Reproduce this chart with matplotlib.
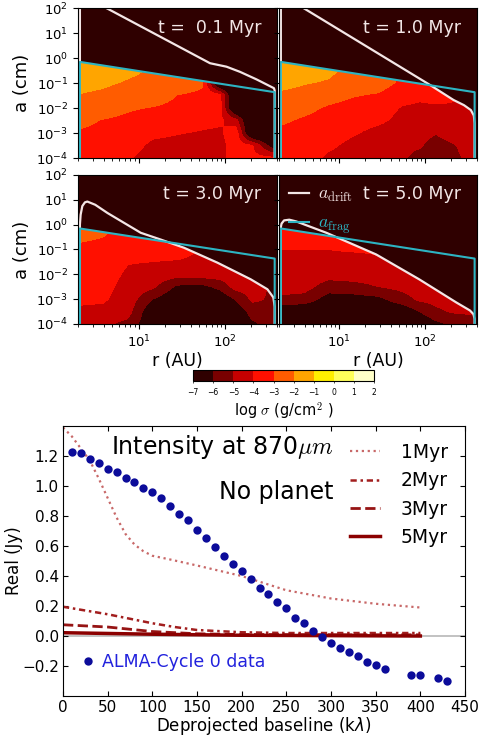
import numpy as np
import matplotlib.pyplot as plt
from matplotlib.patches import Polygon
from matplotlib.ticker import NullLocator

# ---------------- top: dust surface density maps ----------------
# coarse grid: radius nodes (AU) and grain size nodes (cm)
r_nodes = [2.1, 3.9, 7.5, 14.6, 28, 55, 86, 133, 207, 375]
a_nodes = [1e-4, 3.2e-4, 1e-3, 3.2e-3, 1e-2, 3.2e-2, 0.1, 0.32, 1.0]

# log sigma, one inner list per radius node (values from small to large a)
sigma_01 = [
    [-3.5, -3.3, -3.1, -2.8, -2.5, -2.05, -1.7, -1.5, -1.5],
    [-3.6, -3.4, -3.2, -3.05, -2.6, -2.2, -1.85, -1.6, -1.6],
    [-3.9, -3.6, -3.35, -3.2, -2.9, -2.5, -2.1, -1.8, -1.8],
    [-4.4, -4.2, -3.8, -3.4, -3.05, -2.6, -2.3, -2.1, -2.1],
    [-4.5, -4.3, -3.95, -3.5, -3.2, -3.02, -2.6, -2.4, -2.4],
    [-4.5, -4.4, -4.1, -3.7, -3.4, -3.15, -2.9, -2.7, -2.7],
    [-4.3, -4.4, -4.2, -3.8, -3.5, -3.6, -8, -8, -8],
    [-3.6, -3.5, -3.4, -4.6, -8, -8, -8, -8, -8],
    [-3.7, -3.95, -8, -8, -8, -8, -8, -8, -8],
    [-3.8, -7, -8, -8, -8, -8, -8, -8, -8],
]
sigma_10 = [
    [-3.4, -3.3, -3.15, -2.9, -2.6, -2.2, -1.7, -1.4, -1.4],
    [-3.5, -3.4, -3.25, -3.1, -2.8, -2.35, -1.95, -1.6, -1.6],
    [-4.2, -3.8, -3.5, -3.3, -3.1, -2.7, -2.1, -1.8, -1.8],
    [-4.4, -4.3, -3.9, -3.6, -3.3, -2.95, -2.6, -2.3, -2.3],
    [-4.6, -4.5, -4.3, -3.8, -3.5, -3.1, -2.6, -2.4, -2.4],
    [-4.9, -4.8, -4.5, -4.3, -4.1, -3.6, -3.2, -3.0, -3.0],
    [-5.3, -4.9, -4.7, -4.5, -4.2, -3.8, -3.3, -3.1, -3.1],
    [-5.6, -5.4, -4.95, -4.6, -4.2, -3.6, -3.4, -3.4, -3.4],
    [-5.3, -5.1, -4.6, -4.3, -4.1, -3.9, -3.9, -3.9, -3.9],
    [-4.6, -4.5, -4.4, -4.3, -4.2, -4.2, -4.2, -4.2, -4.2],
]
sigma_30 = [
    [-4.5, -4.15, -3.85, -3.7, -3.55, -3.4, -3.2, -2.85, -2.5],
    [-4.8, -4.2, -3.9, -3.75, -3.6, -3.45, -3.25, -3.0, -2.8],
    [-5.3, -4.6, -4.4, -4.3, -4.15, -3.95, -3.6, -3.3, -3.2],
    [-7, -7, -6.0, -4.8, -4.4, -4.0, -3.6, -3.3, -3.2],
    [-7, -7, -7, -6.2, -4.6, -4.1, -3.5, -3.3, -3.3],
    [-7, -7, -7, -6.3, -4.5, -4.3, -4.1, -4.1, -4.1],
    [-7, -7, -7, -5.7, -4.5, -4.4, -4.4, -4.4, -4.4],
    [-7, -6.8, -5.9, -4.6, -4.5, -4.5, -4.5, -4.5, -4.5],
    [-6.2, -5.6, -4.8, -4.6, -4.6, -4.6, -4.6, -4.6, -4.6],
    [-5.5, -5.3, -5.2, -5.2, -5.2, -5.2, -5.2, -5.2, -5.2],
]
sigma_50 = [
    [-6.8, -7, -5.2, -4.6, -4.4, -4.25, -4.0, -3.6, -3.3],
    [-7, -7, -5.4, -4.6, -4.4, -4.25, -4.0, -3.6, -3.3],
    [-7, -7, -6.5, -5.5, -4.6, -4.3, -4.0, -3.6, -3.3],
    [-7, -7, -6.5, -5.3, -4.6, -4.4, -3.9, -3.6, -3.5],
    [-7, -7, -6.3, -5.0, -4.6, -4.1, -3.9, -3.9, -3.9],
    [-7, -6.8, -5.4, -4.7, -4.5, -4.5, -4.5, -4.5, -4.5],
    [-7, -6.0, -4.8, -4.6, -4.6, -4.6, -4.6, -4.6, -4.6],
    [-6.3, -5.2, -4.7, -4.7, -4.7, -4.7, -4.7, -4.7, -4.7],
    [-5.8, -4.9, -4.7, -4.7, -4.7, -4.7, -4.7, -4.7, -4.7],
    [-5.5, -4.8, -4.8, -4.8, -4.8, -4.8, -4.8, -4.8, -4.8],
]

# fragmentation barrier (same for all snapshots)
r_frag = [2.1, 375]
a_frag = [0.7, 0.043]

# drift barrier per snapshot
r_drift_01 = [2.1, 4.7, 67, 104, 149, 231, 368, 375]
a_drift_01 = [355, 83, 0.62, 0.45, 0.28, 0.14, 0.062, 0.05]
r_drift_10 = [2.1, 4.2, 114, 213, 282, 339, 367, 375]
a_drift_10 = [355, 83, 0.083, 0.021, 0.013, 0.0083, 0.005, 0.0025]
r_drift_30 = [2.1, 2.14, 2.24, 2.4, 2.56, 3.16, 4.37, 10.6, 18.1, 33.6, 81.5, 198, 309, 362, 375]
a_drift_30 = [1.0, 2.5, 5.6, 7.9, 8.5, 6.3, 2.95, 0.47, 0.25, 0.117, 0.0295, 0.0063, 0.0025, 0.00117, 0.0005]
r_drift_50 = [2.1, 2.14, 2.29, 2.63, 3.16, 7.1, 26.9, 85, 229, 331, 363, 375]
a_drift_50 = [0.8, 1.1, 1.48, 1.58, 1.35, 0.47, 0.063, 0.0063, 0.00074, 0.00035, 0.00025, 0.00016]

times = ["t =  0.1 Myr", "t = 1.0 Myr", "t = 3.0 Myr", "t = 5.0 Myr"]
sigmas = [sigma_01, sigma_10, sigma_30, sigma_50]
drifts = [(r_drift_01, a_drift_01), (r_drift_10, a_drift_10),
          (r_drift_30, a_drift_30), (r_drift_50, a_drift_50)]

# ---------------- bottom: visibilities ----------------
alma_b = [10, 20, 30, 40, 50, 60, 70, 80, 90, 100, 110, 120, 130, 140, 150, 160, 170, 180,
          190, 200, 210, 220, 230, 240, 250, 260, 270, 280, 290, 300, 310, 320, 330, 340,
          350, 360, 390, 400, 420, 430]
alma_re = [1.228, 1.222, 1.182, 1.156, 1.116, 1.094, 1.053, 1.028, 0.989, 0.962, 0.918,
           0.864, 0.815, 0.771, 0.705, 0.653, 0.591, 0.536, 0.48, 0.433, 0.382, 0.321,
           0.279, 0.224, 0.184, 0.117, 0.084, 0.031, -0.009, -0.048, -0.079, -0.108,
           -0.134, -0.174, -0.196, -0.218, -0.262, -0.262, -0.279, -0.297]

b_1 = [0, 10, 20, 30, 40, 50, 60, 70, 80, 90, 100, 120, 150, 200, 250, 300, 350, 400]
re_1 = [1.39, 1.33, 1.25, 1.17, 1.05, 0.92, 0.79, 0.68, 0.61, 0.565, 0.535, 0.51, 0.47,
        0.40, 0.305, 0.25, 0.215, 0.19]
b_2 = [0, 25, 50, 75, 100, 125, 150, 200, 250, 300, 400]
re_2 = [0.195, 0.17, 0.145, 0.115, 0.085, 0.06, 0.04, 0.025, 0.02, 0.02, 0.02]
b_3 = [0, 50, 100, 150, 200, 400]
re_3 = [0.075, 0.06, 0.03, 0.015, 0.01, 0.008]
b_5 = [0, 100, 200, 400]
re_5 = [0.022, 0.012, 0.005, 0.0]

fig = plt.figure(figsize=(4.79, 7.37), dpi=100)

positions = [[0.163, 0.7856, 0.4155, 0.2035], [0.5825, 0.7856, 0.4134, 0.2035],
             [0.163, 0.5604, 0.4155, 0.2022], [0.5825, 0.5604, 0.4134, 0.2022]]
levels = np.arange(-7, 3)
cmap = plt.get_cmap("hot")
bg = cmap(0.5 / 9)
drift_col = "#f4e6e6"
frag_col = "#2db4c2"

# rendering grid in log space (bilinear between the read nodes)
lr = np.log10(r_nodes)
la = np.log10(a_nodes)
lr_f = np.linspace(lr[0], lr[-1], 150)
la_f = np.linspace(la[0], la[-1], 150)

for i in range(4):
    ax = fig.add_axes(positions[i])
    ax.set_xscale("log")
    ax.set_yscale("log")
    ax.set_facecolor(bg)

    z = np.array(sigmas[i]).T
    z_r = np.array([np.interp(lr_f, lr, row) for row in z])
    z_f = np.array([np.interp(la_f, la, col) for col in z_r.T]).T
    cs = ax.contourf(10 ** lr_f, 10 ** la_f, z_f, levels=levels, cmap=cmap)

    # dust only lives below min(a_frag, a_drift)
    rd, ad = drifts[i]
    rf = np.logspace(np.log10(r_frag[0]), np.log10(r_frag[-1]), 400)
    lf = np.interp(np.log10(rf), np.log10(r_frag), np.log10(a_frag))
    ld = np.interp(np.log10(rf), np.log10(rd), np.log10(ad))
    cap = 10 ** np.minimum(lf, ld)
    verts = np.column_stack([np.r_[rf, rf[-1], rf[0]], np.r_[cap, 1e-4, 1e-4]])
    clip = Polygon(verts, closed=True, transform=ax.transData, fc="none", ec="none")
    cs.set_clip_path(clip)

    ax.plot(np.r_[rd[0], rd, rd[-1]], np.r_[1e-4, ad, 1e-4], color=drift_col, lw=1.6,
            label=r"$a_{\rm drift}$")
    ax.plot(np.r_[r_frag[0], r_frag, r_frag[-1]], np.r_[1e-4, a_frag, 1e-4], color=frag_col,
            lw=1.5, label=r"$a_{\rm frag}$")

    ax.set_xlim(2, 400)
    ax.set_ylim(1e-4, 1e2)
    ax.set_yticks([1e-4, 1e-3, 1e-2, 1e-1, 1e0, 1e1, 1e2])
    ax.yaxis.set_minor_locator(NullLocator())
    ax.tick_params(which="both", direction="out", top=False, right=False, labelsize=9.5)
    ax.text(0.92, 0.87, times[i], transform=ax.transAxes, ha="right", va="center",
            color="#f2e6e6", fontsize=12.5)
    if i % 2 == 0:
        ax.set_ylabel("a (cm)", fontsize=13)
    else:
        ax.tick_params(labelleft=False)
    if i < 2:
        ax.tick_params(labelbottom=False)
    else:
        ax.set_xlabel("r (AU)", fontsize=12.5, labelpad=1)
    if i == 3:
        leg = ax.legend(loc="upper left", frameon=False, fontsize=13, handlelength=1.1,
                        handletextpad=0.5, labelspacing=0.55, labelcolor="linecolor",
                        borderaxespad=0.15)
        for t in leg.get_texts():
            t.set_math_fontfamily("cm")

cax = fig.add_axes([0.403, 0.483, 0.378, 0.015])
cb = fig.colorbar(cs, cax=cax, orientation="horizontal", ticks=levels)
cb.ax.tick_params(labelsize=5.5, length=1.5, width=0.5)
cb.outline.set_linewidth(0.8)
cb.set_label(r"log $\sigma$ (g/cm$^2$ )", fontsize=10.5, labelpad=2)
cb.ax.xaxis.label.set_math_fontfamily("cm")

# ---------------- visibility panel ----------------
ax5 = fig.add_axes([0.1315, 0.0556, 0.8393, 0.3664])
ax5.axhline(0, color="#bdbdbd", lw=1.3, zorder=1)
l1, = ax5.plot(b_1, re_1, ls=":", color="#c86868", lw=1.6, label="1Myr")
l2, = ax5.plot(b_2, re_2, ls=(0, (2.5, 1.5, 1, 1.5)), color="#a21e1e", lw=1.8, label="2Myr")
l3, = ax5.plot(b_3, re_3, ls="--", color="#961414", lw=2.0, label="3Myr")
l5, = ax5.plot(b_5, re_5, ls="-", color="#8b0000", lw=2.5, label="5Myr")
pts, = ax5.plot(alma_b, alma_re, "o", color="#0c0c9a", ms=6, mec="none",
                label="ALMA-Cycle 0 data")

leg1 = ax5.legend(handles=[l1, l2, l3, l5], loc="upper right", frameon=False, fontsize=13.5,
                  handlelength=1.6, handletextpad=1.1, labelspacing=0.5)
ax5.add_artist(leg1)
ax5.legend(handles=[pts], loc="center left", bbox_to_anchor=(0.02, 0.125), frameon=False,
           fontsize=12.5, handlelength=0.6, handletextpad=0.5, labelcolor="#2222dd",
           borderaxespad=0.3)

ax5.text(0.674, 0.922, r"Intensity at 870$\mu m$", transform=ax5.transAxes, ha="right",
         va="center", fontsize=17, math_fontfamily="cm")
ax5.text(0.674, 0.756, "No planet", transform=ax5.transAxes, ha="right", va="center",
         fontsize=17)

ax5.set_xlim(0, 450)
ax5.set_ylim(-0.4, 1.4)
ax5.set_xticks(np.arange(0, 451, 50))
ax5.set_yticks(np.arange(-0.2, 1.21, 0.2))
ax5.tick_params(direction="in", top=True, right=True, labelsize=11, pad=3)
ax5.set_xlabel(r"Deprojected baseline (k$\lambda$)", fontsize=12)
ax5.set_ylabel("Real (Jy)", fontsize=12)
ax5.xaxis.set_label_coords(0.5, -0.07)
ax5.yaxis.set_label_coords(-0.1, 0.5)

fig.savefig("out.png", dpi=100)
